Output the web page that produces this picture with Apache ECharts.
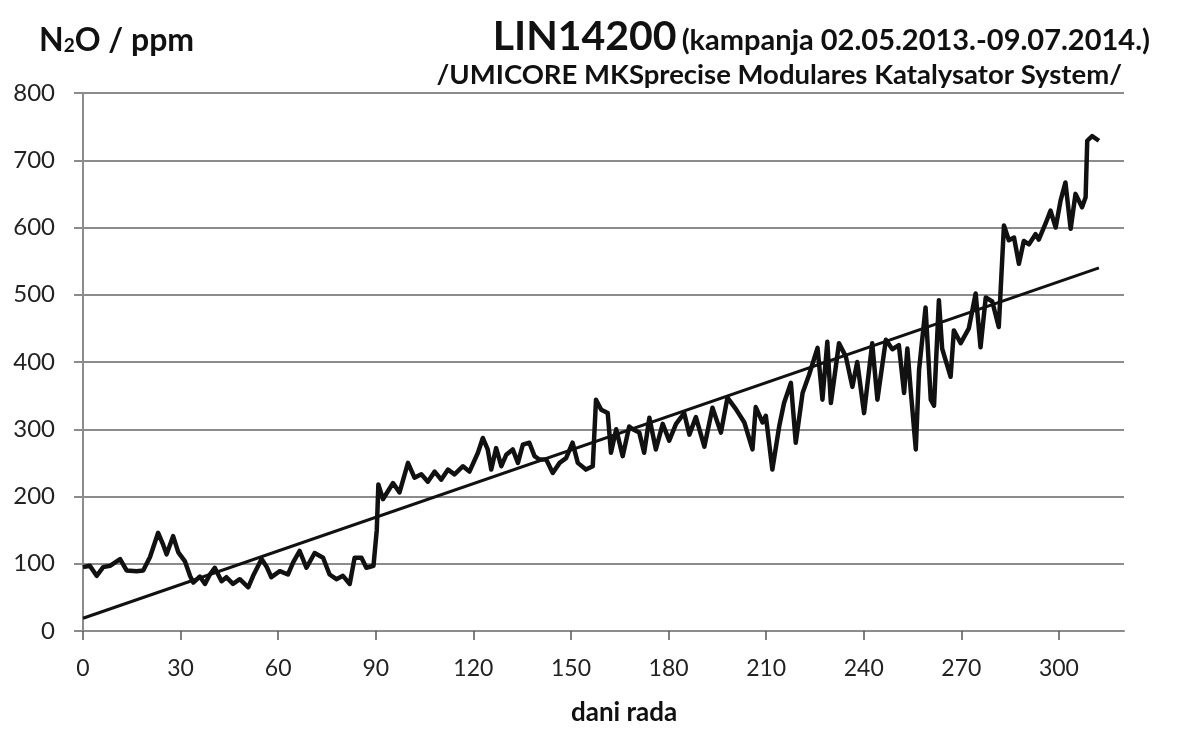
<!DOCTYPE html>
<html>
<head>
<meta charset="utf-8">
<title>LIN14200 N2O</title>
<script src="https://cdn.jsdelivr.net/npm/echarts@6/dist/echarts.min.js"></script>
<style>
  html, body { margin: 0; padding: 0; background: #fff; }
  #main { width: 1190px; height: 742px; }
</style>
</head>
<body>
<div id="main"></div>
<script>
// dani rada (day of campaign)
const days = [
  0, 2.1, 4.2, 6.2, 8.3, 11.4, 13.4, 16.5, 18.5, 20.6, 23.1, 24.5, 25.7, 27.7, 29.3,
  31.3, 32.9, 33.9, 35.9, 37.5, 39, 40.5, 42.6, 44.1, 46.1, 48.2, 50.8, 52.3, 54.9,
  56.4, 57.9, 60.5, 63, 64.6, 66.6, 68.7, 71.2, 73.8, 75.8, 77.9, 79.9, 82, 83.5,
  85.6, 87.1, 89.3, 90.3, 90.8, 92.2, 95.3, 97.3, 99.9, 101.9, 104, 106, 108.1,
  110.1, 112.2, 114.2, 116.8, 118.8, 121.4, 122.9, 124.4, 125.5, 127, 128.6, 130.1,
  132.1, 133.7, 135.2, 137.2, 138.8, 140.3, 142.4, 144.4, 146.5, 148.5, 150.5,
  152.1, 154.6, 156.7, 157.7, 159.3, 161.3, 162.3, 163.9, 165.9, 167.9, 169, 171,
  172.5, 174.1, 176.1, 178.2, 180.2, 182.3, 184.8, 186.4, 188.4, 191, 193.5, 196.1,
  198.1, 200.7, 203.3, 205.8, 206.8, 208.9, 209.9, 211.9, 214, 215.5, 217.6, 219.1,
  221.2, 223.2, 225.8, 227.3, 228.8, 229.9, 232.4, 234.5, 236.5, 238, 240.1, 242.6,
  244.2, 246.8, 248.8, 250.8, 252.4, 253.4, 254.4, 256, 257, 259, 260.6, 261.6,
  263.1, 264.1, 266.7, 267.7, 269.8, 272.3, 274.4, 275.9, 277.5, 279.5, 281.5,
  283.1, 284.6, 286.2, 287.7, 289.2, 290.8, 292.8, 293.8, 295.9, 297.4, 299, 300.5,
  302, 303.6, 305.1, 307.1, 308.2, 308.7, 310.2, 312.3
];
// N2O / ppm
const n2o = [
  95, 97, 82, 95, 97, 107, 90, 89, 90, 110, 146, 130, 114, 141, 117,
  104, 82, 72, 81, 70, 84, 94, 74, 80, 70, 77, 65, 82, 107,
  96, 80, 89, 84, 102, 119, 94, 116, 109, 84, 77, 82, 70, 109,
  109, 94, 97, 150, 218, 196, 220, 206, 250, 228, 233, 222, 237,
  225, 240, 233, 245, 237, 265, 287, 270, 240, 272, 245, 262,
  270, 250, 277, 280, 260, 255, 255, 235, 250, 257, 280,
  250, 240, 245, 344, 329, 324, 265, 300, 260, 304, 300, 295,
  265, 317, 270, 308, 283, 308, 324, 292, 318, 274, 332, 295,
  347, 330, 310, 270, 333, 310, 320, 240, 304, 339, 369, 280,
  354, 381, 421, 344, 430, 339, 428, 408, 363, 400, 324, 428,
  344, 433, 419, 425, 354, 420, 360, 270, 388, 481, 344, 335,
  492, 420, 378, 447, 428, 450, 502, 422, 496, 490, 452,
  603, 581, 585, 546, 580, 575, 590, 582, 606, 625, 600, 640,
  667, 598, 650, 630, 645, 729, 736, 729
];
// linear trend
const trendDays = [0, 312.3];
const trendValues = [19, 540];

const xTicks = [0, 30, 60, 90, 120, 150, 180, 210, 240, 270, 300];

const chart = echarts.init(document.getElementById('main'));
const font = 'Lato, "Open Sans", sans-serif';

chart.setOption({
  animation: false,
  backgroundColor: '#fff',
  title: [
    {
      text: '{a|N}{s|2}{a|O / ppm}',
      left: 34,
      top: 20,
      textStyle: {
        rich: {
          a: { fontFamily: font, fontWeight: 'bold', fontSize: 32, color: '#111' },
          s: { fontFamily: font, fontWeight: 'bold', fontSize: 19, color: '#111', padding: [10, 0, 0, 0] }
        }
      }
    },
    {
      text: '{b|LIN14200} {c|(kampanja 02.05.2013.-09.07.2014.)}',
      right: 35,
      top: 11,
      textStyle: {
        rich: {
          b: { fontFamily: font, fontWeight: 'bold', fontSize: 41, color: '#111' },
          c: { fontFamily: font, fontWeight: 'bold', fontSize: 29, color: '#111', padding: [8, 0, 0, 0] }
        }
      }
    },
    {
      text: '/UMICORE MKSprecise Modulares Katalysator System/',
      right: 63,
      top: 56,
      textStyle: { fontFamily: font, fontWeight: 'bold', fontSize: 27.5, color: '#111' }
    },
    {
      text: 'dani rada',
      left: 566,
      top: 695,
      textStyle: { fontFamily: font, fontWeight: 'bold', fontSize: 26, color: '#111' }
    }
  ],
  grid: { left: 83, right: 66, top: 93, bottom: 111, containLabel: false },
  xAxis: {
    type: 'value',
    min: 0,
    max: 320,
    interval: 30,
    axisLine: { show: true, lineStyle: { color: '#8c8c8c', width: 2 } },
    axisTick: { show: true, length: 9, lineStyle: { color: '#555', width: 1.5 } },
    axisLabel: {
      showMaxLabel: false,
      margin: 26,
      fontFamily: font,
      fontSize: 23,
      color: '#222',
      formatter: v => (xTicks.indexOf(v) >= 0 ? String(v) : '')
    },
    splitLine: { show: false }
  },
  yAxis: {
    type: 'value',
    min: 0,
    max: 800,
    interval: 100,
    axisLine: { show: true, lineStyle: { color: '#8c8c8c', width: 2 } },
    axisTick: { show: true, length: 9, lineStyle: { color: '#8c8c8c', width: 2 } },
    axisLabel: { margin: 28, fontFamily: font, fontSize: 24, color: '#222' },
    splitLine: { show: true, lineStyle: { color: '#8c8c8c', width: 2 } }
  },
  series: [
    {
      name: 'N2O',
      type: 'line',
      data: days.map((d, i) => [d, n2o[i]]),
      showSymbol: false,
      lineStyle: { color: '#111', width: 4.5, join: 'round' },
      z: 3
    },
    {
      name: 'trend',
      type: 'line',
      data: trendDays.map((d, i) => [d, trendValues[i]]),
      showSymbol: false,
      lineStyle: { color: '#111', width: 3 },
      z: 4
    }
  ]
});
</script>
</body>
</html>
